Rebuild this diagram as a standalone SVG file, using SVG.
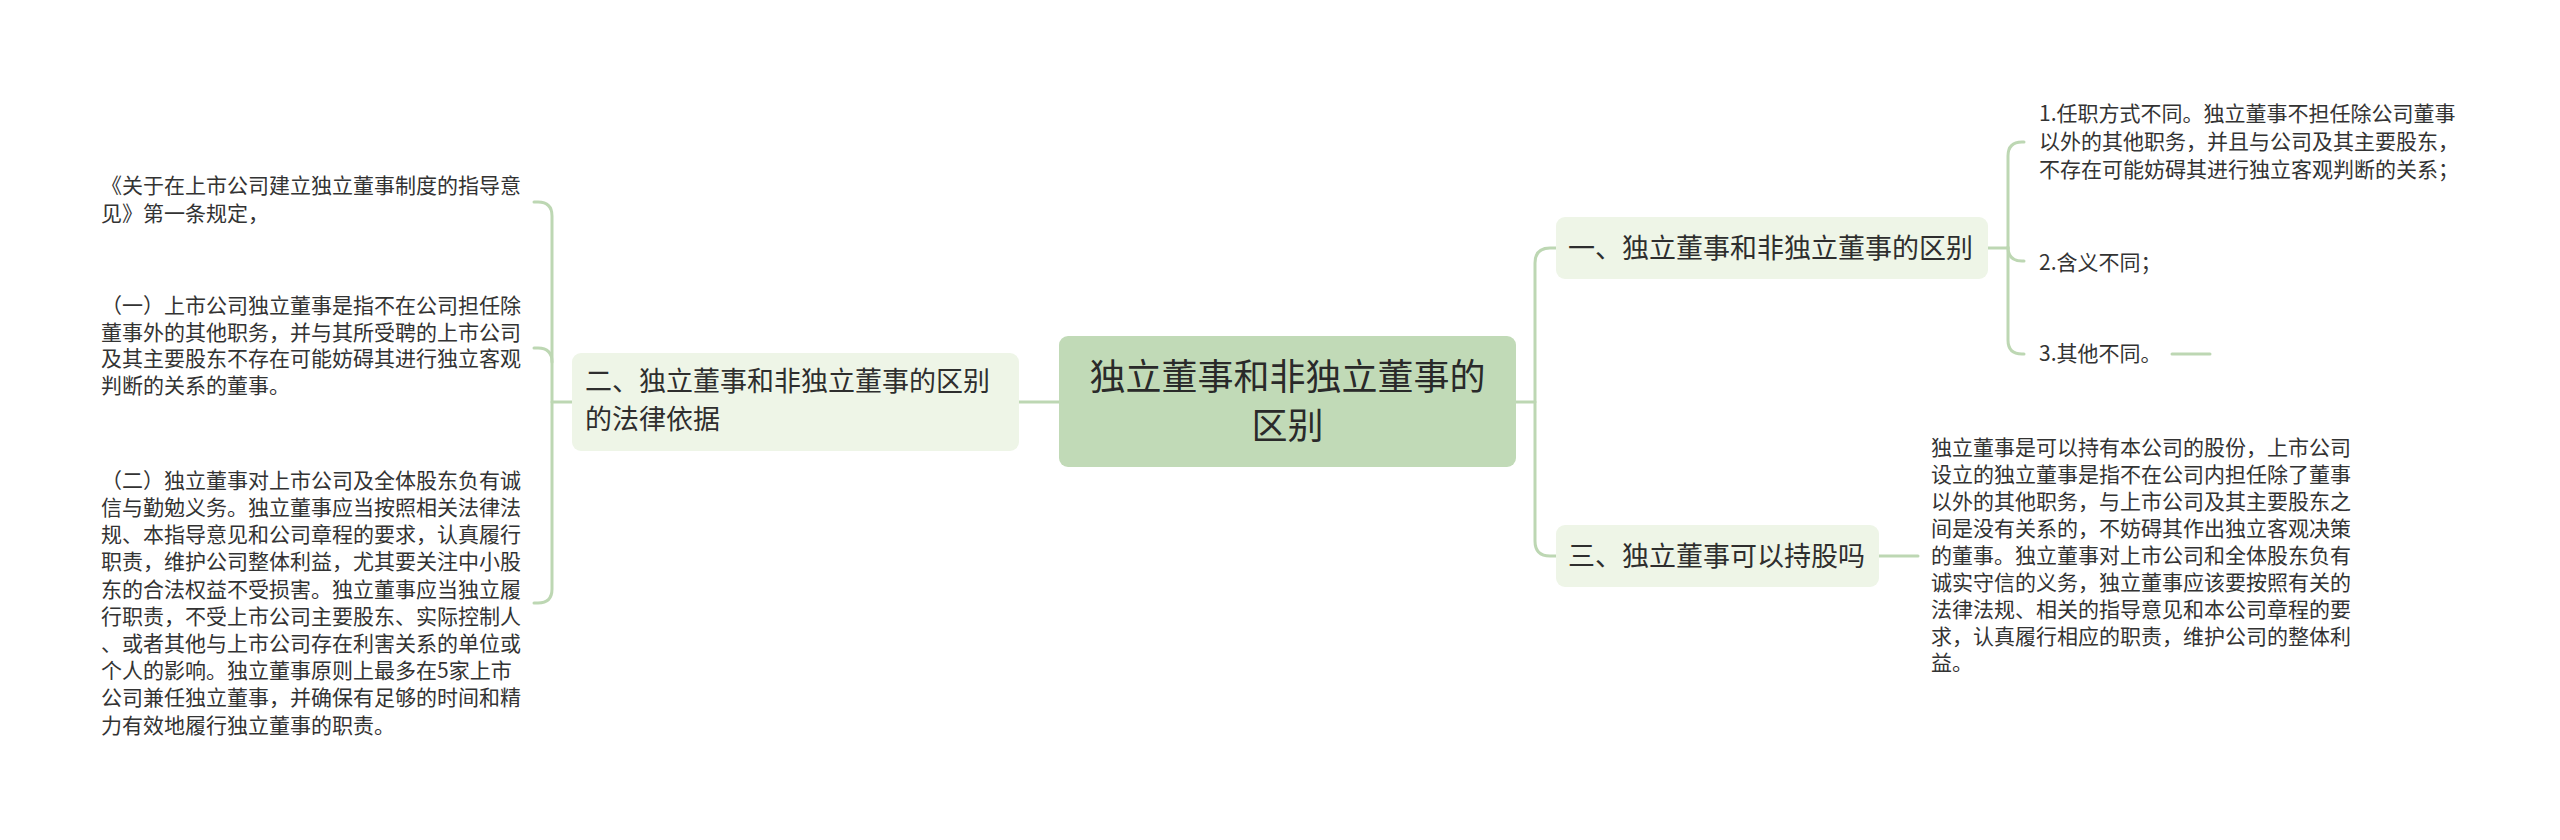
<svg xmlns="http://www.w3.org/2000/svg" width="2560" height="840" viewBox="0 0 2560 840">
<style>
.t{font-family:"Noto Sans CJK SC","Noto Sans",sans-serif;fill:#333333}
.c{font-size:36px;fill:#2a2a2a}
.b{font-size:27px;fill:#2e2e2e}
.l{font-size:21px}
.ln{fill:none;stroke:#bdd7b3;stroke-width:3;stroke-linecap:round}
</style>
<rect width="2560" height="840" fill="#ffffff"/>
<g id="connectors">
<path class="ln" d="M1019 402 H1059"/>
<path class="ln" d="M572 402 H552"/>
<path class="ln" d="M534 202 H538 Q552 202 552 216 V589 Q552 603 538 603 H534"/>
<path class="ln" d="M534 348 H538 Q552 348 552 362"/>
<path class="ln" d="M1516 402 H1535"/>
<path class="ln" d="M1556 248 H1550 Q1535 248 1535 263 V541 Q1535 556 1550 556 H1556"/>
<path class="ln" d="M1988 248 H2008"/>
<path class="ln" d="M2024 142 H2022 Q2008 142 2008 156 V340 Q2008 354 2022 354 H2024"/>
<path class="ln" d="M2008 247 Q2008 261 2022 261 H2024"/>
<path class="ln" d="M2172 354 H2210"/>
<path class="ln" d="M1879 556 H1918"/>
</g>
<g id="root">
<rect x="1059" y="336" width="457" height="131" rx="9" fill="#c1dab7"/>
<text class="t c" x="1287.5" y="390" text-anchor="middle">独立董事和非独立董事的</text>
<text class="t c" x="1287.5" y="439" text-anchor="middle">区别</text>
</g>
<g id="b2">
<rect x="572" y="353" width="447" height="98" rx="9" fill="#eef5e7"/>
<text class="t b" x="585" y="391">二、独立董事和非独立董事的区别</text>
<text class="t b" x="585" y="429">的法律依据</text>
</g>
<g id="b2-leaf1">
<text class="t l" x="101" y="193">《关于在上市公司建立独立董事制度的指导意</text>
<text class="t l" x="101" y="221">见》第一条规定，</text>
</g>
<g id="b2-leaf2">
<text class="t l" x="101" y="313">（一）上市公司独立董事是指不在公司担任除</text>
<text class="t l" x="101" y="340">董事外的其他职务，并与其所受聘的上市公司</text>
<text class="t l" x="101" y="366">及其主要股东不存在可能妨碍其进行独立客观</text>
<text class="t l" x="101" y="393">判断的关系的董事。</text>
</g>
<g id="b2-leaf3">
<text class="t l" x="101" y="488">（二）独立董事对上市公司及全体股东负有诚</text>
<text class="t l" x="101" y="515">信与勤勉义务。独立董事应当按照相关法律法</text>
<text class="t l" x="101" y="542">规、本指导意见和公司章程的要求，认真履行</text>
<text class="t l" x="101" y="569">职责，维护公司整体利益，尤其要关注中小股</text>
<text class="t l" x="101" y="597">东的合法权益不受损害。独立董事应当独立履</text>
<text class="t l" x="101" y="624">行职责，不受上市公司主要股东、实际控制人</text>
<text class="t l" x="101" y="651">、或者其他与上市公司存在利害关系的单位或</text>
<text class="t l" x="101" y="678">个人的影响。独立董事原则上最多在5家上市</text>
<text class="t l" x="101" y="705">公司兼任独立董事，并确保有足够的时间和精</text>
<text class="t l" x="101" y="733">力有效地履行独立董事的职责。</text>
</g>
<g id="b1">
<rect x="1556" y="217" width="432" height="62" rx="9" fill="#eef5e7"/>
<text class="t b" x="1568" y="258">一、独立董事和非独立董事的区别</text>
</g>
<g id="b1-leaf1">
<text class="t l" x="2039" y="121">1.任职方式不同。独立董事不担任除公司董事</text>
<text class="t l" x="2039" y="149">以外的其他职务，并且与公司及其主要股东，</text>
<text class="t l" x="2039" y="177">不存在可能妨碍其进行独立客观判断的关系；</text>
</g>
<g id="b1-leaf2">
<text class="t l" x="2039" y="270">2.含义不同；</text>
</g>
<g id="b1-leaf3">
<text class="t l" x="2039" y="361">3.其他不同。</text>
</g>
<g id="b3">
<rect x="1556" y="525" width="323" height="62" rx="9" fill="#eef5e7"/>
<text class="t b" x="1568" y="566">三、独立董事可以持股吗</text>
</g>
<g id="b3-leaf1">
<text class="t l" x="1931" y="455">独立董事是可以持有本公司的股份，上市公司</text>
<text class="t l" x="1931" y="482">设立的独立董事是指不在公司内担任除了董事</text>
<text class="t l" x="1931" y="509">以外的其他职务，与上市公司及其主要股东之</text>
<text class="t l" x="1931" y="536">间是没有关系的，不妨碍其作出独立客观决策</text>
<text class="t l" x="1931" y="563">的董事。独立董事对上市公司和全体股东负有</text>
<text class="t l" x="1931" y="590">诚实守信的义务，独立董事应该要按照有关的</text>
<text class="t l" x="1931" y="617">法律法规、相关的指导意见和本公司章程的要</text>
<text class="t l" x="1931" y="644">求，认真履行相应的职责，维护公司的整体利</text>
<text class="t l" x="1931" y="670">益。</text>
</g>
</svg>
